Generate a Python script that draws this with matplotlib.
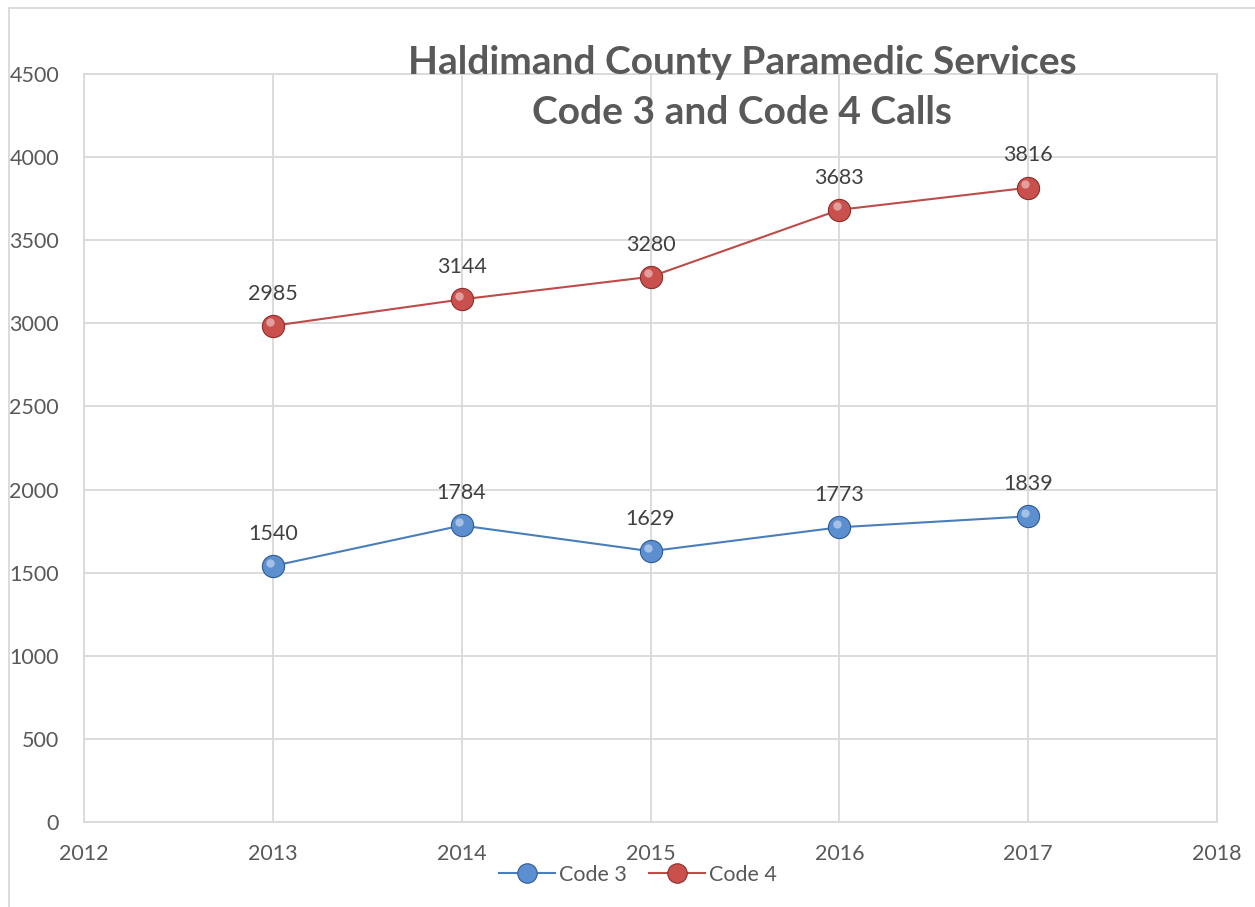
import matplotlib
matplotlib.use("Agg")
import matplotlib.pyplot as plt
from matplotlib.lines import Line2D
import matplotlib.transforms as mtransforms

years = [2013, 2014, 2015, 2016, 2017]
code3 = [1540, 1784, 1629, 1773, 1839]
code4 = [2985, 3144, 3280, 3683, 3816]
series_names = ["Code 3", "Code 4"]
title_lines = ["Haldimand County Paramedic Services", "Code 3 and Code 4 Calls"]
yticks = [0, 500, 1000, 1500, 2000, 2500, 3000, 3500, 4000, 4500]
xticks = [2012, 2013, 2014, 2015, 2016, 2017, 2018]

plt.rcParams['font.family'] = ['Lato', 'DejaVu Sans']

W, H = 1255, 907
fig = plt.figure(figsize=(W / 100, H / 100), dpi=100)
ax = fig.add_axes([84 / W, 1 - 822 / H, (1217 - 84) / W, (822 - 74) / H])

ax.set_xlim(2012, 2018)
ax.set_ylim(0, 4500)
ax.set_xticks(xticks)
ax.set_yticks(yticks)
ax.grid(True, color="#d9d9d9", linewidth=1.3)
ax.set_axisbelow(True)
for s in ax.spines.values():
    s.set_color("#d9d9d9")
    s.set_linewidth(1.3)
ax.tick_params(length=0, labelsize=15.5, colors="#595959")
ax.tick_params(axis='x', pad=16)
ax.tick_params(axis='y', pad=18)

colors = {"Code 3": ("#4a7ebb", "#5b8fd0", "#2f5b95"),
          "Code 4": ("#be4b48", "#c9504c", "#8c2e2b")}

handles = []
for name, vals in zip(series_names, [code3, code4]):
    lc, fc, ec = colors[name]
    ax.plot(years, vals, color=lc, linewidth=1.5, zorder=3)
    ax.plot(years, vals, linestyle="none", marker="o", markersize=16,
            markerfacecolor=fc, markeredgecolor=ec, markeredgewidth=0.8, zorder=4)
    # highlight for a sphere-like look
    off = mtransforms.offset_copy(ax.transData, fig=fig, x=-2, y=2.5, units='points')
    ax.plot(years, vals, linestyle="none", marker="o", markersize=6,
            markerfacecolor="white", markeredgewidth=0, alpha=0.45, zorder=5,
            transform=off)
    for x, v in zip(years, vals):
        ax.annotate(f"{v}", (x, v), xytext=(0, 16), textcoords="offset points",
                    ha="center", va="bottom", fontsize=15.5, color="#404040")
    handles.append(Line2D([0], [0], color=lc, linewidth=1.5, marker="o", markersize=14,
                          markerfacecolor=fc, markeredgecolor=ec, markeredgewidth=0.8))

fig.legend(handles, series_names, loc="center", bbox_to_anchor=(638 / W, 1 - 875 / H),
           ncol=2, frameon=False, fontsize=15.5, labelcolor="#595959",
           handlelength=2.6, columnspacing=1.0, handletextpad=0.2)

fig.text(742 / W, 1 - 62 / H, title_lines[0], ha="center", va="center",
         fontsize=28, fontweight="bold", color="#595959")
fig.text(742 / W, 1 - 113 / H, title_lines[1], ha="center", va="center",
         fontsize=28, fontweight="bold", color="#595959")

# outer chart border (left and top visible)
fig.add_artist(Line2D([9 / W, 9 / W], [0, 1 - 8 / H], transform=fig.transFigure,
                      color="#d9d9d9", linewidth=1.3))
fig.add_artist(Line2D([9 / W, 1], [1 - 8 / H, 1 - 8 / H], transform=fig.transFigure,
                      color="#d9d9d9", linewidth=1.3))

fig.savefig("out.png", dpi=100)
